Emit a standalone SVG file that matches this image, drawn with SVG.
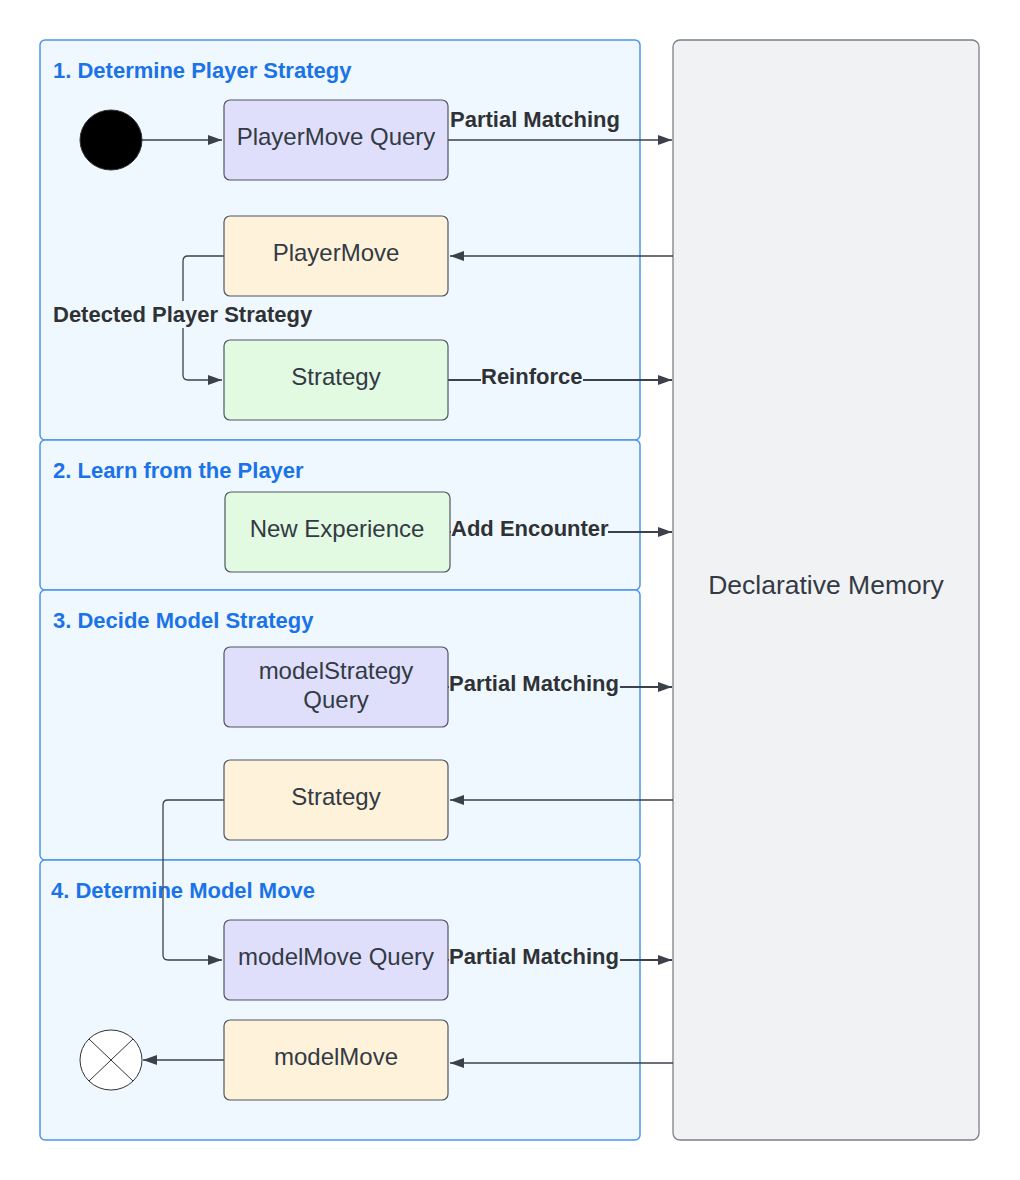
<svg xmlns="http://www.w3.org/2000/svg" width="1020" height="1180" viewBox="0 0 1020 1180">
<defs>
<marker id="arr" viewBox="0 0 14 10" refX="14" refY="5" markerWidth="14" markerHeight="10" markerUnits="userSpaceOnUse" orient="auto">
<path d="M0,0 L14,5 L0,10 Z" fill="#3a414a"/>
</marker>
<style>
.frame{fill:#f0f8ff;stroke:#4a95ee;stroke-width:1.5}
.title{font-family:"Liberation Sans",Arial,sans-serif;font-weight:bold;font-size:22px;fill:#1a73e8}
.node{stroke:#4f5560;stroke-width:1.2}
.q{fill:#dfdffc}
.y{fill:#fff2da}
.g{fill:#e2f9e2}
.nt{font-family:"Liberation Sans",Arial,sans-serif;font-size:24px;fill:#333a44;text-anchor:middle}
.lbl{font-family:"Liberation Sans",Arial,sans-serif;font-weight:bold;font-size:22px;fill:#2f3235}
.c{fill:none;stroke:#3a414a;stroke-width:1.3}
.ct{fill:none;stroke:#3a414a;stroke-width:2}
.bg{fill:#f0f8ff}
</style>
</defs>
<rect width="1020" height="1180" fill="#ffffff"/>

<g id="frames">
<rect class="frame" x="40" y="40" width="600" height="400" rx="5"/>
<rect class="frame" x="40" y="440" width="600" height="150" rx="5"/>
<rect class="frame" x="40" y="590" width="600" height="270" rx="5"/>
<rect class="frame" x="40" y="860" width="600" height="280" rx="5"/>
<text class="title" x="53" y="78">1. Determine Player Strategy</text>
<text class="title" x="53" y="478">2. Learn from the Player</text>
<text class="title" x="53" y="628">3. Decide Model Strategy</text>
<text class="title" x="51" y="898">4. Determine Model Move</text>
</g>

<g id="declarative-memory">
<rect x="673" y="40" width="306" height="1100" rx="7" fill="#f1f2f4" stroke="#7d8088" stroke-width="1.3"/>
<text x="826" y="594" font-family="'Liberation Sans',Arial,sans-serif" font-size="26.5" fill="#333a44" text-anchor="middle">Declarative Memory</text>
</g>

<g id="connectors">
<path class="c" d="M142,140 H222" marker-end="url(#arr)"/>
<path class="c" d="M448,140 H672" marker-end="url(#arr)"/>
<path class="c" d="M673,256 H450" marker-end="url(#arr)"/>
<path class="c" d="M224,256 H188 Q183,256 183,261 V375 Q183,380 188,380 H222" marker-end="url(#arr)"/>
<path class="ct" d="M448,380 H672" marker-end="url(#arr)"/>
<path class="ct" d="M450,532 H672" marker-end="url(#arr)"/>
<path class="ct" d="M448,687 H672" marker-end="url(#arr)"/>
<path class="c" d="M673,800 H450" marker-end="url(#arr)"/>
<path class="c" d="M224,800 H168 Q163,800 163,805 V955 Q163,960 168,960 H222" marker-end="url(#arr)"/>
<path class="ct" d="M448,960 H672" marker-end="url(#arr)"/>
<path class="c" d="M673,1063 H450" marker-end="url(#arr)"/>
<path class="c" d="M224,1060 H143" marker-end="url(#arr)"/>
<text class="lbl" x="450" y="127">Partial Matching</text>
<rect class="bg" x="52" y="301" width="262" height="27"/>
<text class="lbl" x="53" y="322">Detected Player Strategy</text>
<rect class="bg" x="481" y="366" width="102" height="26"/>
<text class="lbl" x="481" y="384">Reinforce</text>
<rect class="bg" x="451" y="518" width="157" height="26"/>
<text class="lbl" x="451" y="536">Add Encounter</text>
<rect class="bg" x="449" y="673" width="171" height="27"/>
<text class="lbl" x="449" y="691">Partial Matching</text>
<rect class="bg" x="449" y="946" width="171" height="27"/>
<text class="lbl" x="449" y="964">Partial Matching</text>
</g>

<g id="start">
<ellipse cx="111" cy="140" rx="31" ry="30" fill="#000000" stroke="#333" stroke-width="1"/>
</g>

<g id="playermove-query">
<rect class="node q" x="224" y="100" width="224" height="80" rx="6"/>
<text class="nt" x="336" y="145">PlayerMove Query</text>
</g>
<g id="playermove">
<rect class="node y" x="224" y="216" width="224" height="80" rx="6"/>
<text class="nt" x="336" y="261">PlayerMove</text>
</g>
<g id="strategy-1">
<rect class="node g" x="224" y="340" width="224" height="80" rx="6"/>
<text class="nt" x="336" y="385">Strategy</text>
</g>
<g id="new-experience">
<rect class="node g" x="225" y="492" width="225" height="80" rx="6"/>
<text class="nt" x="337" y="537">New Experience</text>
</g>
<g id="modelstrategy-query">
<rect class="node q" x="224" y="647" width="224" height="80" rx="6"/>
<text class="nt" x="336" y="679">modelStrategy</text>
<text class="nt" x="336" y="708">Query</text>
</g>
<g id="strategy-3">
<rect class="node y" x="224" y="760" width="224" height="80" rx="6"/>
<text class="nt" x="336" y="805">Strategy</text>
</g>
<g id="modelmove-query">
<rect class="node q" x="224" y="920" width="224" height="80" rx="6"/>
<text class="nt" x="336" y="965">modelMove Query</text>
</g>
<g id="modelmove">
<rect class="node y" x="224" y="1020" width="224" height="80" rx="6"/>
<text class="nt" x="336" y="1065">modelMove</text>
</g>
<g id="end">
<ellipse cx="111" cy="1060" rx="31" ry="30" fill="#ffffff" stroke="#333" stroke-width="1"/>
<path d="M89,1039 L133,1081 M133,1039 L89,1081" stroke="#333" stroke-width="1"/>
</g>
</svg>
